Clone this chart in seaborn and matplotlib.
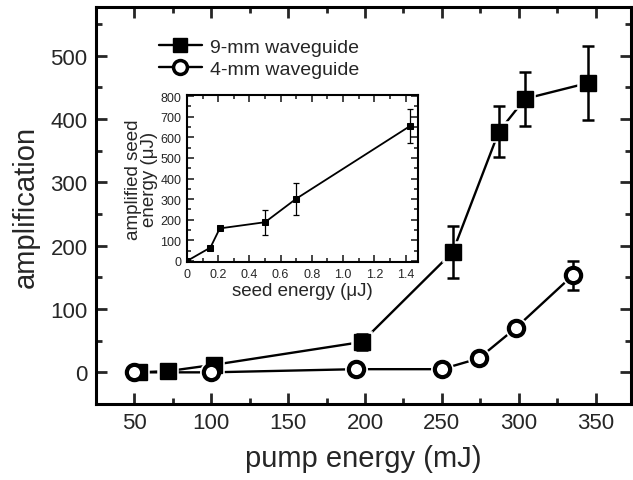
import matplotlib
matplotlib.use("Agg")
import matplotlib.pyplot as plt
import seaborn as sns
import pandas as pd
import numpy as np
from matplotlib.ticker import MultipleLocator
from matplotlib.lines import Line2D

sns.set_theme(style="ticks")
plt.rcParams['font.family'] = ['Liberation Sans', 'DejaVu Sans']

# main data
x9 = [53, 72, 102, 198, 257, 287, 304, 345]
y9 = [0, 2, 12, 48, 190, 380, 432, 457]
e9 = [0, 0, 0, 12, 41, 40, 43, 58]
x4 = [50, 100, 194, 250, 274, 298, 335]
y4 = [0, 0, 5, 5, 22, 70, 153]
e4 = [0, 0, 0, 0, 0, 8, 23]

# inset data
xs = [0.0, 0.15, 0.21, 0.5, 0.7, 1.43]
ys = [0, 65, 158, 188, 302, 655]
es = [0, 0, 0, 60, 78, 83]

df9 = pd.DataFrame({"x": x9, "y": y9})
df4 = pd.DataFrame({"x": x4, "y": y4})
dfs = pd.DataFrame({"x": xs, "y": ys})

fig = plt.figure(figsize=(6.33, 4.81), dpi=100)
ax = fig.add_axes([96/633, 1-405/481, (631-96)/633, (405-8)/481])

# lines
sns.lineplot(data=df9, x="x", y="y", ax=ax, color="black", lw=1.7, zorder=2)
sns.lineplot(data=df4, x="x", y="y", ax=ax, color="black", lw=1.7, zorder=2)
# white halos (gap between line and marker)
ax.plot(x9, y9, "s", ms=11, mfc="white", mec="white", mew=4, zorder=3)
ax.plot(x4, y4, "o", ms=11, mfc="white", mec="white", mew=5.5, zorder=3)
# error bars
ax.errorbar(x9, y9, yerr=e9, fmt="none", ecolor="black", elinewidth=1.8,
            capsize=4, capthick=1.8, zorder=3.5)
ax.errorbar(x4, y4, yerr=e4, fmt="none", ecolor="black", elinewidth=1.8,
            capsize=4, capthick=1.8, zorder=3.5)
# markers
ax.plot(x9, y9, "s", ms=11, mfc="black", mec="black", mew=1, zorder=3.6)
ax.plot(x4, y4, "o", ms=11, mfc="white", mec="black", mew=3, zorder=5)

ax.xaxis.set_major_locator(MultipleLocator(50))
ax.xaxis.set_minor_locator(MultipleLocator(25))
ax.yaxis.set_major_locator(MultipleLocator(100))
ax.yaxis.set_minor_locator(MultipleLocator(50))
ax.set_xticks([50, 100, 150, 200, 250, 300, 350])
ax.set_yticks([0, 100, 200, 300, 400, 500])
ax.set_xlim(25, 373)
ax.set_ylim(-50, 577)
ax.tick_params(which="both", direction="in", top=True, right=True, width=2, labelsize=16, pad=6)
ax.tick_params(which="major", length=8)
ax.tick_params(which="minor", length=4.5)
for s in ax.spines.values():
    s.set_linewidth(2.2)
    s.set_color("black")
ax.set_xlabel("pump energy (mJ)", fontsize=21, labelpad=8)
ax.set_ylabel("amplification", fontsize=21, labelpad=8)

handles = [
    Line2D([], [], color="black", lw=1.7, marker="s", markersize=10, markerfacecolor="black"),
    Line2D([], [], color="black", lw=1.7, marker="o", markersize=10, markerfacecolor="white", markeredgewidth=2.5),
]
ax.legend(handles, ["9-mm waveguide", "4-mm waveguide"], loc="upper left",
          bbox_to_anchor=(0.085, 0.965), frameon=False, fontsize=14,
          handlelength=2.2, handletextpad=0.4, labelspacing=0.2)

# inset
ins = fig.add_axes([187/633, 1-263/481, (418-187)/633, (263-96)/481])
sns.lineplot(data=dfs, x="x", y="y", ax=ins, color="black", lw=1.3,
             marker="s", markersize=5, markeredgecolor="black",
             markerfacecolor="black", zorder=3)
ins.errorbar(xs, ys, yerr=es, fmt="none", ecolor="black", elinewidth=0.9,
             capsize=2, capthick=0.9, zorder=2)
ins.xaxis.set_major_locator(MultipleLocator(0.2))
ins.xaxis.set_minor_locator(MultipleLocator(0.1))
ins.yaxis.set_major_locator(MultipleLocator(100))
ins.yaxis.set_minor_locator(MultipleLocator(50))
ins.set_xticks([0, 0.2, 0.4, 0.6, 0.8, 1.0, 1.2, 1.4])
ins.set_xticklabels(["0", "0.2", "0.4", "0.6", "0.8", "1.0", "1.2", "1.4"])
ins.set_xlim(0, 1.48)
ins.set_ylim(-5, 805)
ins.tick_params(which="both", direction="in", top=True, right=True, width=1.2, labelsize=9, pad=4)
ins.tick_params(which="major", length=5)
ins.tick_params(which="minor", length=3)
for s in ins.spines.values():
    s.set_linewidth(1.5)
    s.set_color("black")
ins.set_xlabel("seed energy (\u03bcJ)", fontsize=13.5, labelpad=2)
ins.set_ylabel("amplified seed\nenergy (\u03bcJ)", fontsize=13.5, labelpad=2, linespacing=0.9)

fig.savefig("out.png", dpi=100)
